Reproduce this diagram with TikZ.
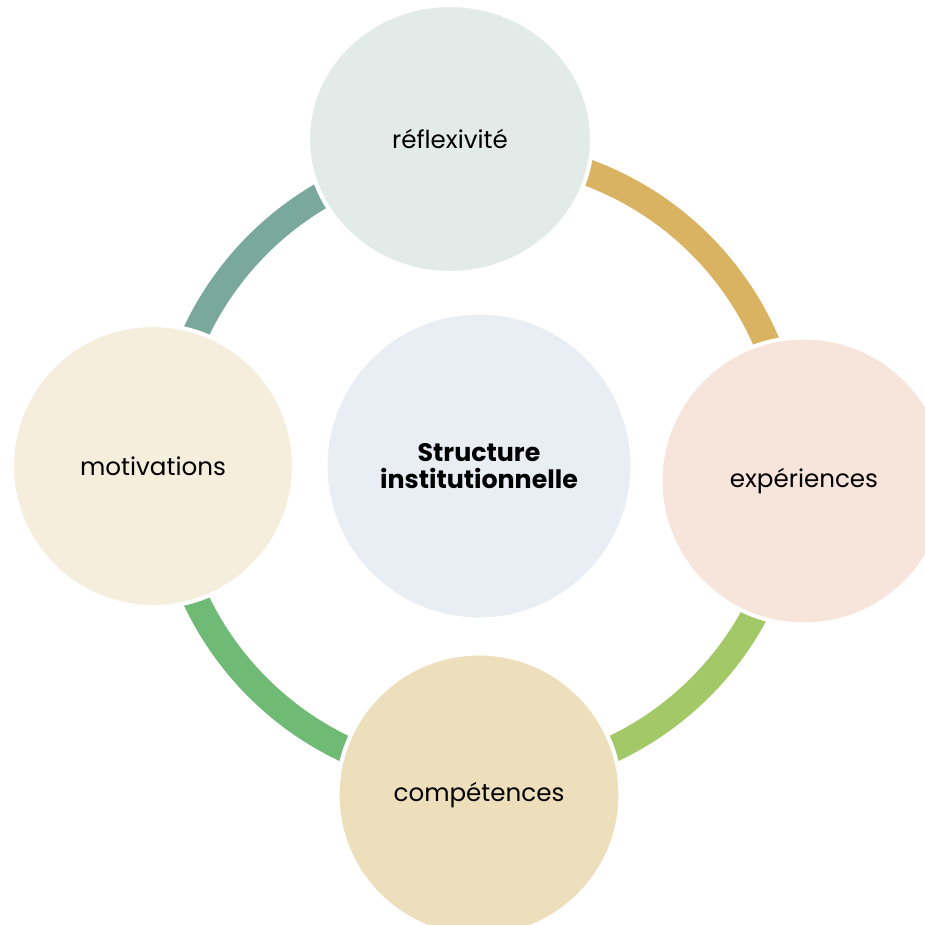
\documentclass[tikz,border=0pt]{standalone}
\usepackage{fontspec}
\setmainfont{Poppins}
\usetikzlibrary{positioning, shapes.geometric}
\definecolor{reflfill}{HTML}{E3EBE8}
\definecolor{expfill}{HTML}{F7E4DA}
\definecolor{compfill}{HTML}{EEDFBC}
\definecolor{motfill}{HTML}{F6EEDD}
\definecolor{midfill}{HTML}{E9EEF5}
\definecolor{teal}{HTML}{7BA89D}
\definecolor{gold}{HTML}{D9B262}
\definecolor{lime}{HTML}{A3C867}
\definecolor{leaf}{HTML}{6FBA75}

\begin{document}
\begin{tikzpicture}
[x=0.02cm, y=-0.02cm,
 bub/.style={circle, draw=white, line width=2.3pt, inner sep=0pt, minimum size=5.66cm,
   font=\fontsize{14}{16}\selectfont},
 ring/.style={line width=0.53cm},
 every text node part/.style={align=center}]

\useasboundingbox (0,0) rectangle (925,925);

% ring behind the bubbles
\coordinate (O) at (479,466);
\draw [ring, teal] (O) ++(180:313) arc[start angle=180, end angle=265, radius=313];
\draw [ring, gold] (O) ++(-95:313) arc[start angle=-95, end angle=3, radius=313];
\draw [ring, lime] (O) ++(3:313) arc[start angle=3, end angle=90, radius=313];
\draw [ring, leaf] (O) ++(90:313) arc[start angle=90, end angle=180, radius=313];

% bubbles
\node[bub, fill=midfill, minimum size=6.14cm, font=\fontsize{14.4}{16}\selectfont] (mid) at (O) {\textbf{Structure}\\[-1pt]\textbf{institutionnelle}};
\node[bub, ellipse, fill=reflfill, minimum width=5.68cm, minimum height=5.36cm] (refl) at (450,139) {réflexivité};
\node[bub, fill=expfill, minimum size=5.74cm] (exp) at (804,481) {expériences};
\node[bub, fill=compfill] (comp) at (479,795) {compétences};
\node[bub, fill=motfill, minimum size=5.64cm] (mot) at (153,466) {motivations};

\end{tikzpicture}
\end{document}
